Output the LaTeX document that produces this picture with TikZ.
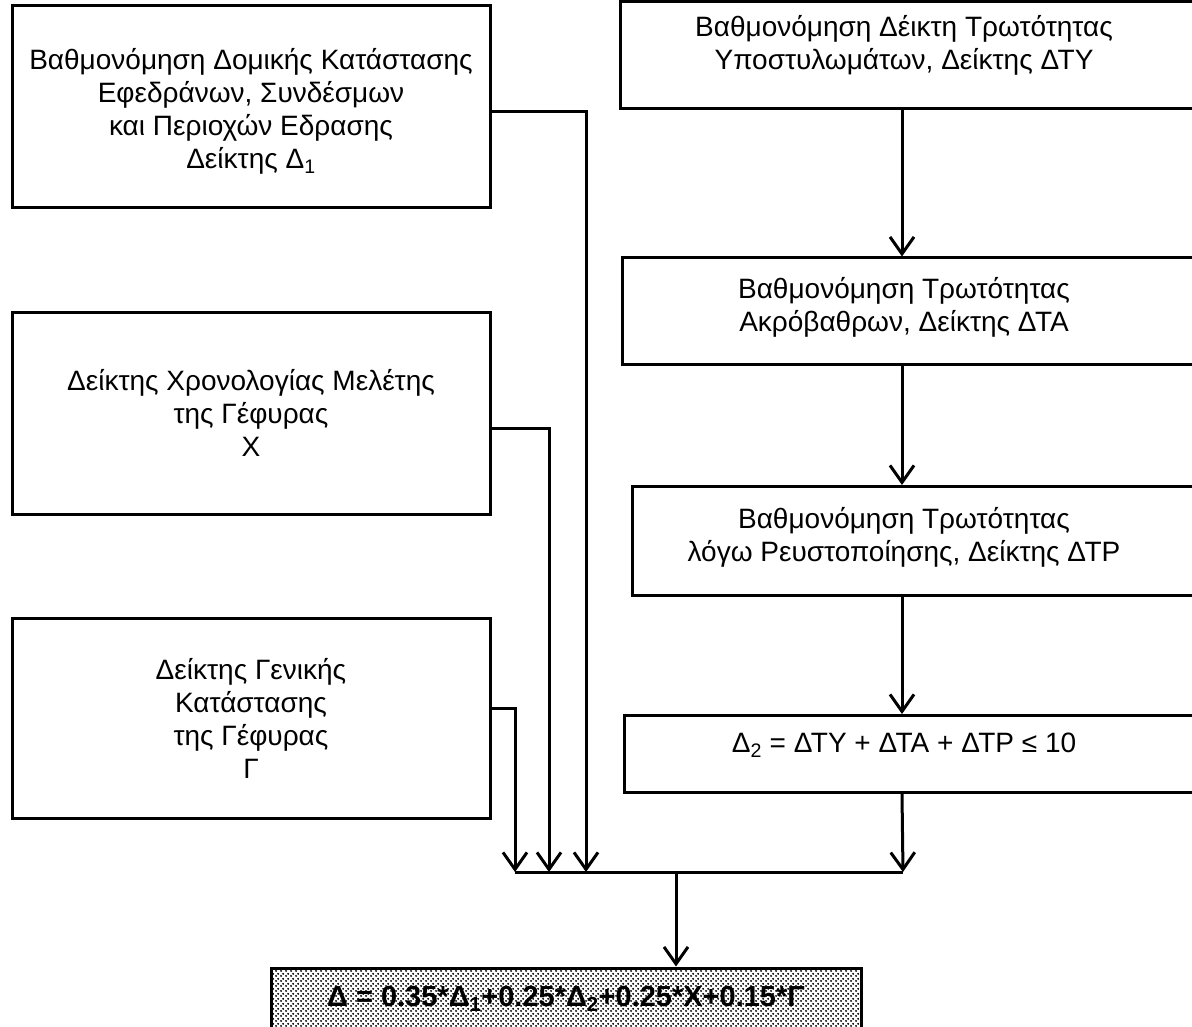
\documentclass[tikz,border=0pt]{standalone}
\usepackage{fontspec}
\setmainfont{Liberation Sans}
\usetikzlibrary{arrows.meta,patterns.meta}

\tikzdeclarepattern{
  name=stipple, type=uncolored,
  bounding box={(0pt,0pt) and (5pt,5pt)},
  tile size={(5pt,5pt)},
  code={\fill (1.25pt,1.25pt) circle (1.25pt); \fill (3.75pt,3.75pt) circle (1.25pt);}
}

\begin{document}
\begin{tikzpicture}[x=1pt, y=-1pt, line width=3pt,
  box/.style={draw, rectangle, inner sep=0pt},
  txt/.style={inner sep=0pt, align=center, font=\fontsize{28}{33}\selectfont},
  arr/.style={-{Straight Barb[length=17pt,width=24pt]}}]
\useasboundingbox (0,0) rectangle (1192,1027);
% left column
\node[box, minimum width=478, minimum height=202] (lbA) at (251,107) {};
\node[txt] (lbAtxt) at (251,111) {Βαθμονόμηση Δομικής Κατάστασης\\Εφεδράνων, Συνδέσμων\\και Περιοχών Εδρασης\\Δείκτης Δ\textsubscript{1}};
\node[box, txt, minimum width=478, minimum height=202] (lbB) at (251,413) {Δείκτης Χρονολογίας Μελέτης\\της Γέφυρας\\Χ};
\node[box, txt, minimum width=478, minimum height=200] (lbC) at (251,718) {Δείκτης Γενικής\\Κατάστασης\\της Γέφυρας\\Γ};
% right column (cut by the page edge), text sits a bit high
\node[box, minimum width=579, minimum height=107] (rbA) at (910,55) {};
\node[txt] (rbAtxt) at (904,45) {Βαθμονόμηση Δέικτη Τρωτότητας\\Υποστυλωμάτων, Δείκτης ΔΤΥ};
\node[box, minimum width=578, minimum height=106] (rbB) at (911,311) {};
\node[txt] (rbBtxt) at (904,307) {Βαθμονόμηση Τρωτότητας\\Ακρόβαθρων, Δείκτης ΔΤΑ};
\node[box, minimum width=568, minimum height=109] (rbC) at (916,541) {};
\node[txt] (rbCtxt) at (904,537) {Βαθμονόμηση Τρωτότητας\\λόγω Ρευστοποίησης, Δείκτης ΔΤΡ};
\node[box, minimum width=576, minimum height=77] (rbD) at (912,754) {};
\node[txt] (rbDtxt) at (904,745) {Δ\textsubscript{2} = ΔΤΥ + ΔΤΑ + ΔΤΡ ≤ 10};
% result
\node[box, minimum width=590, minimum height=62, pattern=stipple, font=\fontsize{29}{32}\bfseries] (res) at (566,999) {Δ = 0.35*Δ\textsubscript{1}+0.25*Δ\textsubscript{2}+0.25*Χ+0.15*Γ};
% collecting line
\coordinate (col) at (902,0);
\coordinate (jA) at (586,872);
\coordinate (jB) at (549,872);
\coordinate (jC) at (515,872);
\coordinate (jD) at (903,872);
\coordinate (jM) at (676,872);
\draw[arr] (rbA.south -| col) -- (rbB.north -| col);
\draw[arr] (rbB.south -| col) -- (rbC.north -| col);
\draw[arr] (rbC.south -| col) -- (rbD.north -| col);
\draw[arr] (rbD.south -| col) -- (jD);
\draw[arr] ([yshift=-5pt]lbA.east) -| (jA);
\draw[arr] ([yshift=-15pt]lbB.east) -| (jB);
\draw[arr] ([yshift=10pt]lbC.east) -| (jC);
\draw (jC) -- (jD); % bus
\draw[arr] (jM) -- (res.north -| jM);
\end{tikzpicture}
\end{document}
